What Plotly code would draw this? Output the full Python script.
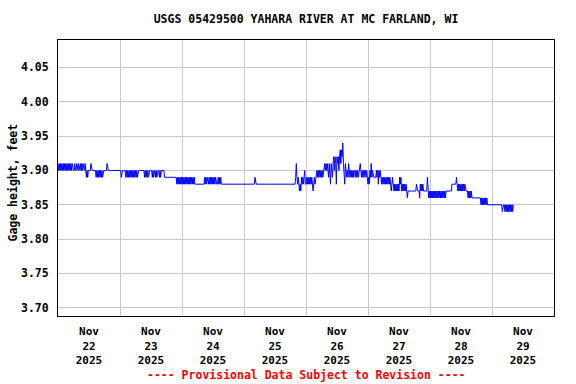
import plotly.graph_objects as go
import pandas as pd

# Gage height, 15-minute samples; each char = hundredths of a foot above 3.84 (hex digit)
nov22 = ("767676767676767676767676" "667667667667" "676766765656" "66676666666"
         "56565656565" "666666" "7" "6666666666666666666")
nov23 = ("66" "5" "666666" "5656565" "6" "5656565" "6" "565" "6666666666" "56565656"
         "6666" "5656" "6" "5656" "66" "565" "66666" "5555555555555555555" "45454545")
nov24 = ("45454545454545454545" "444444444444444" "545454" "4" "5454545" "4" "5454" "44"
         "545454" "4444444444444444444444444444444444")
nov25 = ("44444444444444444" "5" "44444444444444444444444444444444444444444444444444444444444444"
         "5754543435454564")
nov26 = ("454545454543" "454556565656" "565667676765" "764765786874" "878689798a76"
         "476565765656" "565665656566" "765656566565")
nov27 = ("454657565555" "565646565454" "545454545454" "345434343434" "354534343434"
         "323333333333" "333433332434" "343333335323")
nov28 = ("23232323232323232323232323" "33333333" "4444444" "5" "43434343434343" "333"
         "232323" "22222222222222" "12121212121" "111111")
nov29 = "1111111111111111" "0" "111" "01010101010101"

start = "2025-11-22 00:00"
x_range = ["2025-11-22 00:00", "2025-11-30 00:00"]
tick_days = ["2025-11-22", "2025-11-23", "2025-11-24", "2025-11-25",
             "2025-11-26", "2025-11-27", "2025-11-28", "2025-11-29"]
tick_text = ["Nov<br>22<br>2025", "Nov<br>23<br>2025", "Nov<br>24<br>2025", "Nov<br>25<br>2025",
             "Nov<br>26<br>2025", "Nov<br>27<br>2025", "Nov<br>28<br>2025", "Nov<br>29<br>2025"]
y_ticks = [3.70, 3.75, 3.80, 3.85, 3.90, 3.95, 4.00, 4.05]
y_range = [3.688, 4.090]

codes = nov22 + nov23 + nov24 + nov25 + nov26 + nov27 + nov28 + nov29
values = [round(3.84 + int(c, 16) / 100, 2) for c in codes]
times = pd.date_range(start, periods=len(values), freq="15min")

FONT = "DejaVu Sans Mono"

fig = go.Figure()
fig.add_trace(go.Scatter(x=times, y=values, mode="lines",
                         line=dict(color="#0000FF", width=1), hoverinfo="skip",
                         showlegend=False))

fig.update_layout(
    width=576, height=384,
    margin=dict(l=58, r=22, t=40, b=68),
    paper_bgcolor="white", plot_bgcolor="white",
    font=dict(family=FONT, size=11.5, color="black", weight="bold"),
    title=dict(text="USGS 05429500 YAHARA RIVER AT MC FARLAND, WI",
               x=0.5, xref="paper", y=1 - 19 / 384, yref="container",
               xanchor="center", yanchor="middle",
               font=dict(family=FONT, size=11.5, color="black", weight="bold")),
    xaxis=dict(
        type="date", range=x_range,
        tickvals=[pd.Timestamp(d) + pd.Timedelta(hours=12) for d in tick_days],
        ticktext=tick_text, showgrid=False, ticks="", ticklabelstandoff=5,
        tickfont=dict(family=FONT, size=11, color="black", weight="bold"),
        minor=dict(dtick=86400000, tick0="2025-11-22", showgrid=True,
                   gridcolor="#c8c8c8", gridwidth=1, ticks=""),
        showline=True, linecolor="black", linewidth=1, mirror=True, zeroline=False,
    ),
    yaxis=dict(
        range=y_range, tickvals=y_ticks, tickformat=".2f", showgrid=True,
        gridcolor="#c8c8c8", gridwidth=1, ticks="", ticklabelstandoff=6,
        showline=True, linecolor="black", linewidth=1, mirror=True, zeroline=False,
    ),
    annotations=[
        dict(text="Gage height, feet", textangle=-90, x=(12 - 58) / 496, y=(316 - 182.5) / 276,
             xref="paper", yref="paper", xanchor="center", yanchor="middle", showarrow=False,
             font=dict(family=FONT, size=11.5, color="black", weight="bold")),
        dict(text="---- Provisional Data Subject to Revision ----", x=0.5, y=(316 - 375) / 276,
             xref="paper", yref="paper", xanchor="center", yanchor="middle", showarrow=False,
             font=dict(family=FONT, size=11.5, color="#FF0000", weight="bold")),
    ],
)

fig.write_html("out.html", config={"displayModeBar": False},
               post_script="document.body.style.margin='0';")
